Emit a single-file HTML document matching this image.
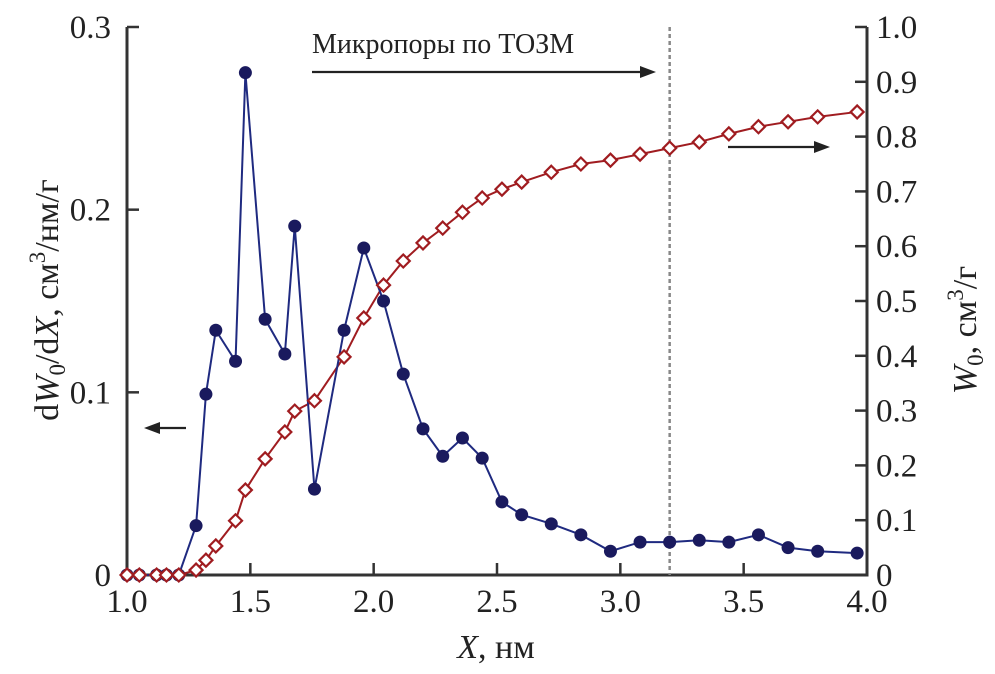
<!DOCTYPE html>
<html><head><meta charset="utf-8"><style>
html,body{margin:0;padding:0;background:#fff;}
svg{display:block;font-family:"Liberation Serif",serif;}
</style></head><body>
<svg id="chart" width="995" height="674" viewBox="0 0 995 674" xmlns="http://www.w3.org/2000/svg">
<g id="axes"></g>
<g id="marks"></g>
<text x="312" y="53" font-size="28" fill="#222">Микропоры по ТОЗМ</text>
<line x1="312" y1="72" x2="642" y2="72" stroke="#222" stroke-width="2.2"/>
<polygon points="656,72 640,66 640,78" fill="#222"/>
<line x1="728" y1="147" x2="816" y2="147" stroke="#222" stroke-width="2.2"/>
<polygon points="830,147 814,141 814,153" fill="#222"/>
<line x1="158" y1="428" x2="186" y2="428" stroke="#222" stroke-width="2.2"/>
<polygon points="144,428 160,422 160,434" fill="#222"/>
<text x="496" y="658" font-size="34" text-anchor="middle" fill="#222"><tspan font-style="italic">X</tspan>, нм</text>
<text transform="translate(58,300) rotate(-90)" font-size="34" text-anchor="middle" fill="#222">d<tspan font-style="italic">W</tspan><tspan font-size="23" dy="7">0</tspan><tspan dy="-7">/d</tspan><tspan font-style="italic">X</tspan>, см<tspan font-size="23" dy="-13">3</tspan><tspan dy="13">/нм/г</tspan></text>
<text transform="translate(976,330) rotate(-90)" font-size="34" text-anchor="middle" fill="#222"><tspan font-style="italic">W</tspan><tspan font-size="23" dy="7">0</tspan><tspan dy="-7">, см</tspan><tspan font-size="23" dy="-13">3</tspan><tspan dy="13">/г</tspan></text>
</svg>
<script>
var xValues=[1.00,1.05,1.12,1.16,1.21,1.28,1.32,1.36,1.44,1.48,1.56,1.64,1.68,1.76,1.88,1.96,2.04,2.12,2.20,2.28,2.36,2.44,2.52,2.60,2.72,2.84,2.96,3.08,3.20,3.32,3.44,3.56,3.68,3.80,3.96];
var dWdX=[0,0,0,0,0,0.027,0.099,0.134,0.117,0.275,0.140,0.121,0.191,0.047,0.134,0.179,0.150,0.110,0.080,0.065,0.075,0.064,0.040,0.033,0.028,0.022,0.013,0.018,0.018,0.019,0.018,0.022,0.015,0.013,0.012];
var W0=[0,0,0,0,0,0.009,0.027,0.053,0.099,0.155,0.212,0.261,0.299,0.318,0.398,0.469,0.529,0.573,0.606,0.633,0.662,0.688,0.704,0.717,0.735,0.750,0.757,0.768,0.779,0.790,0.805,0.818,0.827,0.836,0.845];
var xTicks=["1.0","1.5","2.0","2.5","3.0","3.5","4.0"];
var leftTicks=["0","0.1","0.2","0.3"];
var rightTicks=["0","0.1","0.2","0.3","0.4","0.5","0.6","0.7","0.8","0.9","1.0"];
var dashX=3.2;

var L=127,R=867,T=27,B=575;
function sx(v){return L+(v-1)/3*(R-L);}
function syL(v){return B-v/0.3*(B-T);}
function syR(v){return B-v/1.0*(B-T);}
var NS="http://www.w3.org/2000/svg";
function mk(tag,attrs,parent){var e=document.createElementNS(NS,tag);for(var k in attrs)e.setAttribute(k,attrs[k]);parent.appendChild(e);return e;}
var axes=document.getElementById('axes'),marks=document.getElementById('marks');
var ax=mk('path',{d:'M'+L+' '+T+' L'+L+' '+B+' L'+R+' '+B+' L'+R+' '+T,fill:'none',stroke:'#333','stroke-width':3},axes);


xTicks.forEach(function(t){var x=sx(parseFloat(t));
 var l=mk('line',{x1:x,y1:B,x2:x,y2:B-12,stroke:'#333','stroke-width':2.5},axes);
 
 
 var tx=mk('text',{x:x,y:B+37,'font-size':33,'text-anchor':'middle',fill:'#222'},axes);tx.textContent=t;
 
 
});
leftTicks.forEach(function(t){var y=syL(parseFloat(t));
 var l=mk('line',{x1:L,y1:y,x2:L+12,y2:y,stroke:'#333','stroke-width':2.5},axes);
 
 
 var tx=mk('text',{x:L-16,y:y+11,'font-size':33,'text-anchor':'end',fill:'#222'},axes);tx.textContent=t;
 
 
});
rightTicks.forEach(function(t){var y=syR(parseFloat(t));
 var l=mk('line',{x1:R-12,y1:y,x2:R,y2:y,stroke:'#333','stroke-width':2.5},axes);
 
 
 var tx=mk('text',{x:R+9,y:y+11,'font-size':33,'text-anchor':'start',fill:'#222'},axes);tx.textContent=t;
 
 
});
var dl=mk('line',{x1:sx(dashX),y1:T,x2:sx(dashX),y2:B,stroke:'#888','stroke-width':2.5,'stroke-dasharray':'4,3'},axes);


var rp=xValues.map(function(x,i){return sx(x)+','+syR(W0[i]);}).join(' ');
var rl=mk('polyline',{points:rp,fill:'none',stroke:'#a01c20','stroke-width':2},marks);


var bp=xValues.map(function(x,i){return sx(x)+','+syL(dWdX[i]);}).join(' ');
var bl=mk('polyline',{points:bp,fill:'none',stroke:'#1f2a80','stroke-width':2},marks);


xValues.forEach(function(x,i){
 var c=mk('circle',{cx:sx(x),cy:syL(dWdX[i]),r:6.5,fill:'#1a1a5e'},marks);
 
 
});
xValues.forEach(function(x,i){
 var px=sx(x),py=syR(W0[i]),s=6.5;
 var d=mk('polygon',{points:px+','+(py-s)+' '+(px+s)+','+py+' '+px+','+(py+s)+' '+(px-s)+','+py,fill:'#fff',stroke:'#a01c20','stroke-width':2.2},marks);
 
 
});
</script>
</body></html>
